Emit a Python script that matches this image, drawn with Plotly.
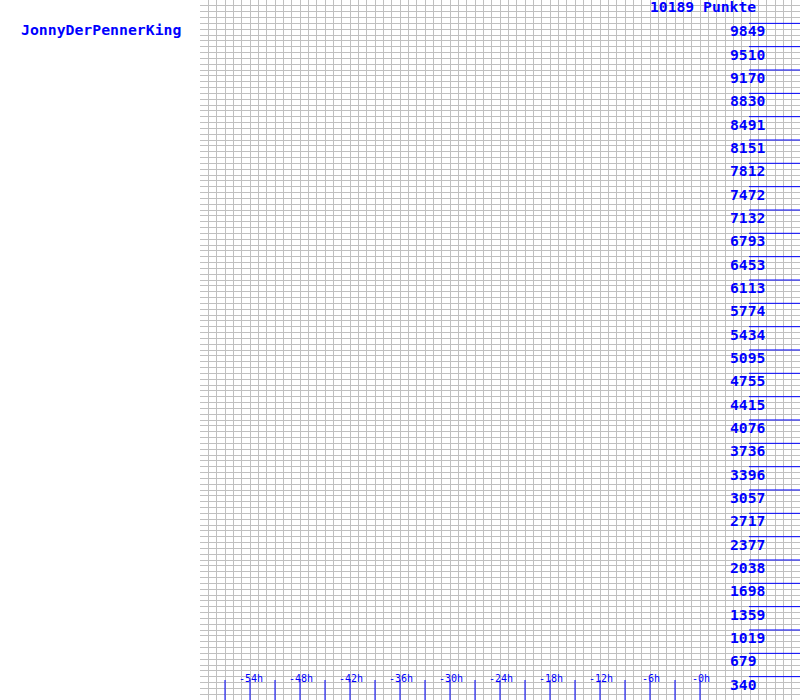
import plotly.graph_objects as go

# ---- data ----
player_name = "JonnyDerPennerKing"
max_points = 10189
y_tick_values = [9849, 9510, 9170, 8830, 8491, 8151, 7812, 7472, 7132, 6793,
                 6453, 6113, 5774, 5434, 5095, 4755, 4415, 4076, 3736, 3396,
                 3057, 2717, 2377, 2038, 1698, 1359, 1019, 679, 340]
x_tick_hours = list(range(-57, 1, 3))          # small blue tick lines every 3h
x_label_hours = [-54, -48, -42, -36, -30, -24, -18, -12, -6, 0]
x_range = [-60, 12]
y_range = [0, max_points]

BLUE = "#0000FF"
GRID = "#C0C0C0"
MONO = "DejaVu Sans Mono"

fig = go.Figure()

# vertical tick marks along the bottom (hours)
tx, ty = [], []
for h in x_tick_hours:
    tx += [h, h, None]
    ty += [0, max_points * 20 / 700, None]
fig.add_trace(go.Scatter(x=tx, y=ty, mode="lines",
                         line=dict(color=BLUE, width=1),
                         hoverinfo="skip", showlegend=False))

shapes = []
annotations = []

# horizontal blue tick lines on the right
for v in y_tick_values:
    shapes.append(dict(type="line", xref="paper", yref="y",
                       x0=749 / 800, x1=1, y0=v, y1=v,
                       line=dict(color=BLUE, width=1)))
    annotations.append(dict(xref="paper", yref="y", x=727.5 / 800, y=v,
                            xanchor="left", yanchor="middle", yshift=-7.5,
                            text=f"<b>{v}</b>", showarrow=False,
                            font=dict(family=MONO, size=14.7, color=BLUE)))

# top label
annotations.append(dict(xref="paper", yref="paper", x=647.5 / 800, y=1,
                        xanchor="left", yanchor="middle", yshift=-6.5,
                        text=f"<b>{max_points} Punkte</b>", showarrow=False,
                        font=dict(family=MONO, size=14.7, color=BLUE)))

# hour labels
for h in x_label_hours:
    annotations.append(dict(xref="x", yref="paper", x=h, y=(700 - 678) / 700,
                            xanchor="center", yanchor="middle", xshift=1,
                            text=f"-{abs(h)}h", showarrow=False,
                            font=dict(family=MONO, size=10, color=BLUE)))

# player name
annotations.append(dict(xref="paper", yref="paper", x=19 / 800, y=1,
                        xanchor="left", yanchor="middle", yshift=-29,
                        text=f"<b>{player_name}</b>", showarrow=False,
                        font=dict(family=MONO, size=14.8, color=BLUE)))

fig.update_layout(
    width=800, height=700,
    margin=dict(l=0, r=0, t=0, b=0),
    paper_bgcolor="white", plot_bgcolor="white",
    xaxis=dict(domain=[0.25, 1], range=x_range, tick0=-60, dtick=1,
               showgrid=True, gridcolor=GRID, gridwidth=1,
               showticklabels=False, ticks="", zeroline=False,
               showline=False, fixedrange=True),
    yaxis=dict(domain=[0, 1], range=y_range, tick0=0, dtick=max_points / 120,
               showgrid=True, gridcolor=GRID, gridwidth=1,
               showticklabels=False, ticks="", zeroline=False,
               showline=False, fixedrange=True),
    shapes=shapes,
    annotations=annotations,
    showlegend=False,
)

fig.write_html("out.html")
